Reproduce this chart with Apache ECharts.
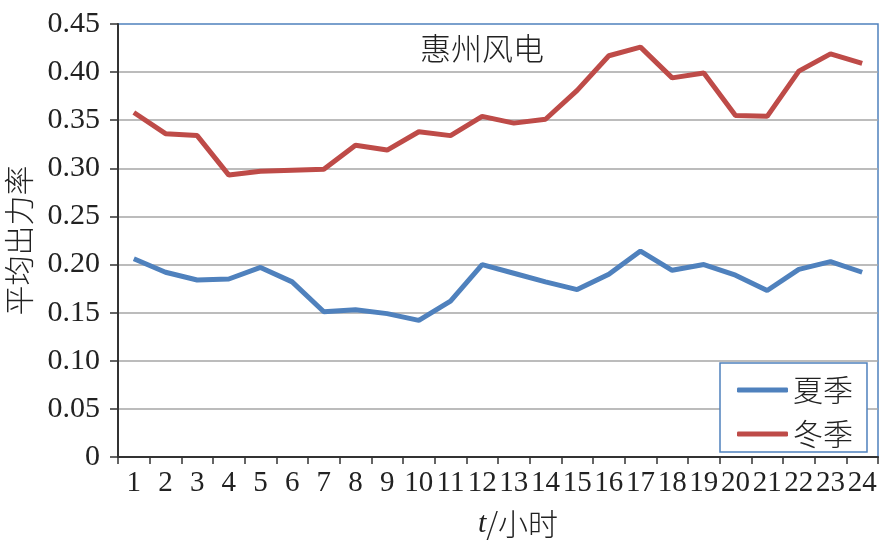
<!DOCTYPE html>
<html>
<head>
<meta charset="utf-8">
<script src="https://cdn.jsdelivr.net/npm/echarts@6/dist/echarts.min.js"></script>
<style>html,body{margin:0;padding:0;background:#fff}#c{width:880px;height:546px}</style>
</head>
<body>
<div id="c"></div>
<script>
const hours = ['1','2','3','4','5','6','7','8','9','10','11','12','13','14','15','16','17','18','19','20','21','22','23','24'];
const summer = [0.206,0.192,0.184,0.185,0.197,0.182,0.151,0.153,0.149,0.142,0.162,0.200,0.191,0.182,0.174,0.190,0.214,0.194,0.200,0.189,0.173,0.195,0.203,0.192];
const winter = [0.358,0.336,0.334,0.293,0.297,0.298,0.299,0.324,0.319,0.338,0.334,0.354,0.347,0.351,0.381,0.417,0.426,0.394,0.399,0.355,0.354,0.401,0.419,0.409];
const seriesNames = ['夏季','冬季'];
const yTicks = ['0','0.05','0.10','0.15','0.20','0.25','0.30','0.35','0.40','0.45'];

const serif = '"Liberation Serif","Times New Roman",serif';
const cjk = '"Noto Sans CJK SC","Liberation Serif",serif';
const gridColors = yTicks.map((t,i)=> i===yTicks.length-1 ? 'rgba(0,0,0,0)' : '#a6a6a6');

const chart = echarts.init(document.getElementById('c'));
chart.setOption({
  animation:false,
  backgroundColor:'#fff',
  title:{
    text:'惠州风电', left:415, top:28,
    textStyle:{fontFamily:cjk, fontSize:31, fontWeight:300, color:'#222'}
  },
  legend:{
    orient:'vertical', left:720, top:363,
    padding:[12,14,3,17], itemGap:14,
    itemWidth:51, itemHeight:5, icon:'roundRect',
    borderColor:'#4F81BD', borderWidth:1.5, backgroundColor:'#fff',
    textStyle:{fontFamily:cjk, fontSize:30, fontWeight:300, color:'#222', lineHeight:30},
    data:seriesNames
  },
  grid:{left:118, right:2, top:24, bottom:89, show:true, outerBoundsMode:'none', containLabel:false,
    borderColor:'#4F81BD', borderWidth:1.5, backgroundColor:'transparent'},
  xAxis:{
    type:'category', data:hours, boundaryGap:true,
    name:'{i|t}/小时', nameLocation:'middle', nameGap:52,
    nameTextStyle:{fontFamily:cjk, fontSize:30, fontWeight:300, color:'#222', padding:[0,0,0,40],
      rich:{i:{fontFamily:serif, fontStyle:'italic', fontSize:30, color:'#222'}}},
    axisLine:{lineStyle:{color:'#333', width:2}},
    axisTick:{show:true, inside:false, length:7, alignWithLabel:false, lineStyle:{color:'#333', width:1.5}},
    axisLabel:{fontFamily:serif, fontSize:29, color:'#222', margin:12, interval:0},
    splitLine:{show:false}
  },
  yAxis:{
    type:'value', min:0, max:0.45, interval:0.05,
    name:'平均出力率', nameLocation:'middle', nameGap:84, nameRotate:90,
    nameTextStyle:{fontFamily:cjk, fontSize:30, fontWeight:300, color:'#222'},
    axisLine:{show:true, lineStyle:{color:'#333', width:2}},
    axisTick:{show:true, inside:false, length:8, lineStyle:{color:'#333', width:1.5}},
    axisLabel:{fontFamily:serif, fontSize:30, color:'#222', margin:18, padding:[0,0,8,0],
      formatter:(v)=>{ const i=Math.round(v/0.05); return yTicks[i]; }},
    splitLine:{show:true, lineStyle:{color:gridColors, width:1.5}}
  },
  series:[
    {name:seriesNames[0], type:'line', data:summer, symbol:'none', lineStyle:{color:'#4F81BD', width:5}, itemStyle:{color:'#4F81BD'}},
    {name:seriesNames[1], type:'line', data:winter, symbol:'none', lineStyle:{color:'#BE4B48', width:5}, itemStyle:{color:'#BE4B48'}}
  ]
});
</script>
</body>
</html>
